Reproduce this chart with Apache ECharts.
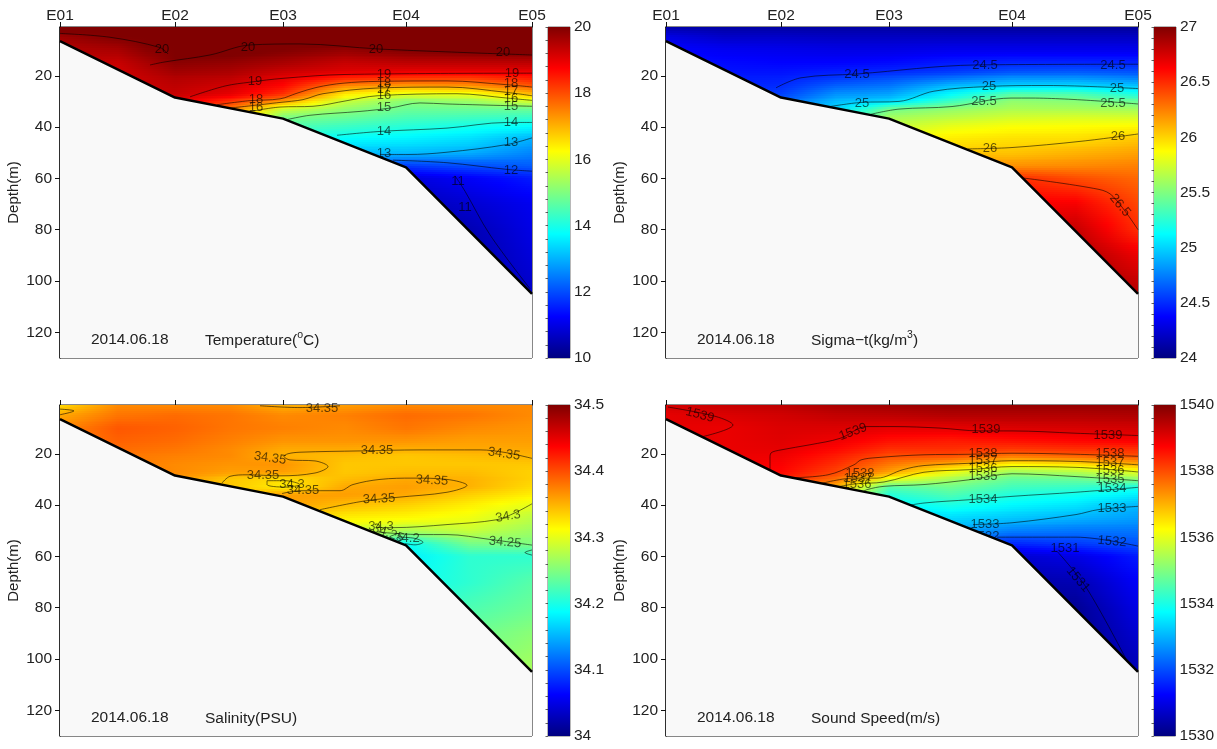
<!DOCTYPE html>
<html><head><meta charset="utf-8">
<script src="https://cdn.jsdelivr.net/npm/echarts@6/dist/echarts.min.js"></script>
<style>html,body{margin:0;padding:0;background:#fff}#c{width:1217px;height:749px}</style>
</head><body><div id="c"></div>
<script>
const stationNames = ['E01','E02','E03','E04','E05'];
const stationX = [0,115,223,346,472];
const seabed = [[0,6.5],[115,28.5],[223,36.7],[346,55.7],[472,105]];
const columnX = [0,58,115,170,223,285,346,410,472];
const rowDepth = [1,5,10,15,18,21,24,27,30,33,36,40,45,50,55,60,70,80,90,105];
const depthTicks = [20,40,60,80,100,120];

const temperature = [
 [20.3,19.7,19.5,19.4,19.4],
 [20.2,20,19.6,19.3,19.2,19.2,19.2,19.2,19.2],
 [20.6,20.4,20.2,19.9,19.7,19.5,19.4,19.3,19.1,18.9],
 [20.7,20.4,20.2,19.8,19.6,19.4,19.2,19,18.3,17.6,17,16],
 [20.6,20.3,20,19.6,19.3,19,18.7,18.3,17.3,15.8,15,14.5,13.9,13.3],
 [20.8,20.4,19.8,19.3,19.1,18.45,17.4,16.45,15.75,15.2,14.8,14.3,13.7,13.1,12.2,11],
 [20.8,20.5,20,19.4,19,18.25,17.2,16,15.1,14.8,14.5,14.1,13.6,13.1,11.8,10.9,10.5,10.3,10.2],
 [20.8,20.5,20.1,19.4,19,18.2,17.3,16.1,15.3,14.8,14.4,13.9,13.4,12.95,12,11.2,10.8,10.5,10.4,10.4],
 [20.8,20.5,20.2,19.4,19,18.5,17.9,16.9,15.9,14.8,14.3,13.7,12.95,12.55,12.15,11.5,11.1,11,10.9,10.7]
];
const sigma = [
 [24.12,24.3,24.38,24.42,24.45],
 [24.1,24.22,24.34,24.4,24.42,24.45,24.47,24.5,24.52],
 [24.1,24.22,24.32,24.38,24.42,24.46,24.5,24.56,24.65,24.75],
 [24.1,24.2,24.3,24.38,24.45,24.53,24.66,24.8,24.92,25,25.1,25.2],
 [24.1,24.2,24.3,24.4,24.48,24.6,24.72,24.85,25,25.45,25.6,25.7,25.85,26],
 [24.08,24.2,24.32,24.45,24.53,24.7,24.93,25.12,25.3,25.55,25.67,25.82,25.94,26.05,26.2,26.4],
 [24.08,24.2,24.32,24.48,24.6,24.8,25,25.38,25.55,25.63,25.74,25.87,25.97,26.05,26.2,26.5,26.65,26.75,26.85],
 [24.08,24.2,24.32,24.48,24.62,24.8,25.02,25.35,25.52,25.62,25.76,25.88,25.98,26.1,26.22,26.4,26.65,26.8,26.88,26.95],
 [24.08,24.2,24.32,24.48,24.6,24.75,24.95,25.2,25.42,25.6,25.75,25.9,26.05,26.15,26.25,26.32,26.42,26.5,26.68,26.85]
];
const salinity = [
 [34.33,34.355,34.37,34.375,34.38],
 [34.37,34.38,34.395,34.39,34.385,34.38,34.38,34.38,34.38],
 [34.37,34.385,34.39,34.385,34.38,34.375,34.37,34.37,34.365,34.36],
 [34.37,34.38,34.38,34.375,34.37,34.37,34.365,34.36,34.34,34.34,34.34,34.34],
 [34.35,34.37,34.375,34.365,34.355,34.35,34.365,34.36,34.33,34.32,34.36,34.36,34.34,34.3],
 [34.36,34.375,34.37,34.365,34.355,34.345,34.34,34.34,34.345,34.355,34.36,34.345,34.32,34.29,34.24,34.2],
 [34.37,34.385,34.38,34.365,34.352,34.34,34.34,34.345,34.355,34.36,34.355,34.335,34.315,34.27,34.19,34.18,34.19,34.2,34.21],
 [34.37,34.38,34.37,34.36,34.355,34.345,34.34,34.345,34.35,34.35,34.335,34.32,34.305,34.285,34.245,34.21,34.21,34.225,34.24,34.25],
 [34.37,34.37,34.365,34.36,34.355,34.35,34.34,34.335,34.335,34.33,34.32,34.3,34.28,34.265,34.25,34.21,34.23,34.24,34.255,34.27]
];
const soundSpeed = [
 [1539.2,1539,1539,1539,1539],
 [1539.3,1539.1,1538.95,1538.95,1538.95,1538.95,1538.95,1538.95,1538.95],
 [1539.4,1539.2,1539.1,1539.05,1539,1538.9,1538.8,1538.7,1538.5,1538.2],
 [1539.6,1539.35,1539.1,1538.9,1538.7,1538.5,1538.3,1538.1,1537.7,1537,1536.4,1535.5],
 [1539.7,1539.4,1539,1538.6,1538.3,1538,1537.6,1537.2,1536.1,1534.6,1534.1,1533.7,1533.2,1532.8],
 [1539.8,1539.5,1539,1538.5,1538.3,1538,1537.1,1536.1,1535.4,1534.85,1534.5,1534,1533.4,1532.9,1532,1531],
 [1539.8,1539.5,1539.1,1538.6,1538.2,1537.6,1536.4,1535.3,1534.75,1534.4,1534.05,1533.7,1533.2,1532.5,1531.6,1530.8,1530.4,1530.2,1530.1],
 [1539.8,1539.5,1539.15,1538.7,1538.3,1537.8,1536.6,1535.5,1534.8,1534.3,1533.9,1533.5,1533,1532.4,1531.8,1531,1530.5,1530.2,1530.1,1530.1],
 [1539.8,1539.55,1539.2,1538.8,1538.3,1538,1537.1,1536,1535.2,1534,1533.6,1533.05,1532.8,1532.4,1532.05,1531.5,1531.2,1531,1530.8,1530.5]
];

const tempContours = [
 [[0,3.5],[50,5],[100,9],[108,11.5]],
 [[90,15.8],[105,14.6],[150,11.9],[190,8],[240,7.6],[320,9.6],[472,11.9]],
 [[130,28.2],[165,24],[190,22.5],[223,21],[285,19.5],[472,19]],
 [[157,31.3],[190,29.7],[220,29],[237,26.8],[257,24.5],[283,22.9],[317,22.2],[387,22],[447,23.5],[472,24.4]],
 [[170,32.6],[220,30.4],[243,29.3],[263,27],[317,24.8],[387,24.4],[447,26.5],[472,27.8]],
 [[190,34],[220,32.2],[253,31.9],[287,29.7],[317,27.8],[397,27],[447,28.7],[472,29.6]],
 [[227,37.1],[250,35.4],[300,33.9],[330,32.6],[360,30.6],[387,31],[472,31.9]],
 [[277,43.2],[320,41.7],[387,40.4],[447,38.2],[472,38.2]],
 [[320,50.7],[347,50.7],[387,49.8],[447,46.8],[472,44.2]],
 [[333,52.9],[387,53.9],[447,56.5],[472,57.2]],
 [[395,59],[405,65],[430,82],[470,103]]
];
const tempLabels = [
 [102,9.9,'20'],[188,9.1,'20'],[316,9.9,'20'],[443,11.1,'20'],
 [195,22.4,'19'],[324,19.3,'19'],[452,18.9,'19'],
 [196,29.3,'18'],[324,22.8,'18'],[451,23.1,'18'],
 [324,25.4,'17'],[451,26.2,'17'],
 [196,32.5,'16'],[324,27.8,'16'],[451,29,'16'],
 [324,32.5,'15'],[451,32.1,'15'],
 [324,41.8,'14'],[451,38.3,'14'],
 [324,50.3,'13'],[451,46,'13'],[451,56.9,'12'],
 [398,61.2,'11'],[405,71.3,'11']
];
const sigmaContours = [
 [[110,24.7],[135,20.8],[191,19.3],[310,15.8],[472,15.5]],
 [[164,32],[195,30.4],[233,30],[268,26],[321,24.2],[381,23.8],[472,25]],
 [[205,35],[233,33],[286,32],[345,28.7],[366,28.7],[472,31]],
 [[302,48.5],[345,48],[416,45.5],[472,42.7]],
 [[356,59.8],[433,64.3],[447,67],[472,80]]
];
const sigmaLabels = [
 [191,19.6,'24.5'],[319,16,'24.5'],[447,16,'24.5'],
 [196,30.9,'25'],[323,24.2,'25'],[451,25,'25'],
 [318,30,'25.5'],[447,30.6,'25.5'],
 [324,48.4,'26'],[452,43.6,'26'],[454,70.5,'26.5',50]
];
const salinityContours = [
 [[472,21.8],[445,19.5],[420,18.5],[360,18.5],[300,18.9],[240,19.4],[228,20],[224,21],[230,22.4],[255,22.8],[268,25],[255,27.5],[220,28.6],[187,28.2],[170,28.8],[162,31.4]],
 [[260,41.8],[303,38.5],[337,37],[387,35],[407,32.3],[387,30],[353,29.5],[320,30],[293,32],[280,34.4],[240,34.4],[222,35.5]],
 [[207,30.5],[225,30.5],[240,32],[225,33],[207,32],[207,30.5]],
 [[320,48.8],[333,48.8],[387,47.6],[437,45.7],[455,43],[472,39.5]],
 [[318,50.5],[360,51.5],[387,51.5],[430,53.4],[472,55.6]],
 [[340,52.5],[355,53],[363,54.5],[355,55.5],[345,55]],
 [[472,57.5],[465,58.5],[472,59.5]],
 [[0,2.6],[14,3.3],[0,4.8]],
 [[200,1.3],[240,2],[280,1.3]]
];
const salinityLabels = [
 [317,18.7,'34.35'],[444,20.1,'34.35',8],[372,30.4,'34.35',3],[319,37.6,'34.35',-3],
 [448,44.4,'34.3',-10],[321,48.4,'34.3'],[445,54.5,'34.25',5],[347,53,'34.2'],[328,51,'34.25',20],
 [243,34.4,'34.35'],[232,32,'34.3'],[210,21.7,'34.35',8],[203,28.6,'34.35'],[262,2.2,'34.35']
];
const soundContours = [
 [[37,13.3],[67,8.8],[50,5.5],[2,1.8]],
 [[104,26],[104,21.7],[105,19.7],[115,18.5],[144,16.5],[174,14],[201,9.4],[227,9.4],[274,10],[314,11.1],[346,11.1],[410,12],[472,12.9]],
 [[122,29.4],[162,28.2],[188,24.3],[195,22.4],[211,21.5],[258,20.4],[304,20.2],[346,19.8],[410,20.2],[472,21]],
 [[151,32],[188,29.5],[211,29.5],[237,26.2],[258,24.6],[304,23.7],[346,22.7],[410,23],[472,24.3]],
 [[161,33.8],[188,31.8],[218,31],[258,27.2],[304,26.2],[346,25],[410,25.3],[472,27.1]],
 [[195,35.3],[201,34],[218,32.7],[258,32],[304,30.1],[346,27.8],[410,28.9],[472,30.5]],
 [[232,40.9],[258,39.2],[304,37.9],[346,36.6],[410,35],[472,33.1]],
 [[307,47.6],[346,46.9],[410,43.7],[432,41.8],[472,40.5]],
 [[331,52.5],[410,52.5],[472,56]],
 [[391,58],[420,72],[460,100]]
];
const soundLabels = [
 [34,4.9,'1539',15],[187,11.5,'1539',-20],[320,10.7,'1539'],[442,12.7,'1539'],
 [317,20,'1538'],[444,20,'1538'],[194,27.8,'1538'],
 [317,22.7,'1537'],[444,23.5,'1537'],[192,29.7,'1537'],
 [317,25.9,'1536'],[444,26.6,'1536'],[191,32.1,'1536'],
 [317,29,'1535'],[444,30.1,'1535'],
 [317,37.9,'1534'],[446,33.6,'1534'],
 [319,47.6,'1533'],[446,41.4,'1533'],
 [319,52.3,'1532'],[446,54.2,'1532',5],
 [399,57,'1531'],[412,69,'1531',50]
];

const FONT = 'Arial, "Liberation Sans", sans-serif';
const TXT = '#222';
const panels = [
 {left:60,  top:27,  table:temperature, lines:tempContours,     labels:tempLabels,     min:10,  max:20,  step:2,   date:'2014.06.18', title:'{a|Temperature(}{s|o}{a|C)}', names:true},
 {left:666, top:27,  table:sigma,       lines:sigmaContours,    labels:sigmaLabels,    min:24,  max:27,  step:0.5, date:'2014.06.18', title:'{a|Sigma−t(kg/m}{s|3}{a|)}', names:true},
 {left:60,  top:405, table:salinity,    lines:salinityContours, labels:salinityLabels, min:34,  max:34.5,step:0.1, date:'2014.06.18', title:'{a|Salinity(PSU)}', names:false},
 {left:666, top:405, table:soundSpeed,  lines:soundContours,    labels:soundLabels,    min:1530,max:1540,step:2,   date:'2014.06.18', title:'{a|Sound Speed(m/s)}', names:false}
];

const jetStops = [[0,0,0,128],[0.125,0,0,255],[0.375,0,255,255],[0.625,255,255,0],[0.875,255,0,0],[1,128,0,0]];
function jet(f){
  f = Math.max(0,Math.min(1,f));
  for(let i=1;i<jetStops.length;i++){
    if(f<=jetStops[i][0]){
      const a=jetStops[i-1],b=jetStops[i],t=(f-a[0])/(b[0]-a[0]);
      return 'rgb('+[1,2,3].map(k=>Math.round(a[k]+(b[k]-a[k])*t)).join(',')+')';
    }
  }
  return 'rgb(128,0,0)';
}

const grid=[],xAxis=[],yAxis=[],series=[],title=[];
panels.forEach((p,n)=>{
  const quads=[];
  for(let c=0;c<columnX.length-1;c++){
    const L=p.table[c],R=p.table[c+1];
    for(let r=0;r<rowDepth.length-1;r++){
      if(r+1<L.length&&r+1<R.length)
        quads.push([columnX[c],columnX[c+1],rowDepth[r],rowDepth[r+1],L[r],R[r],L[r+1],R[r+1]]);
    }
  }
  const frac=v=>(v-p.min)/(p.max-p.min);
  grid.push({left:p.left,top:p.top,width:472,height:331,show:true,borderColor:'#111',borderWidth:1,backgroundColor:'#f9f9f9'});
  xAxis.push({gridIndex:n,type:'value',position:'top',min:0,max:472,splitLine:{show:false},
    axisLine:{show:true,onZero:false,lineStyle:{color:'#111',width:1}},
    axisTick:{show:true,length:5,customValues:stationX,lineStyle:{color:'#111'}},
    axisLabel:{show:p.names,customValues:stationX,margin:3,fontFamily:FONT,fontSize:15.5,color:TXT,
      formatter:v=>stationNames[stationX.indexOf(v)]}});
  yAxis.push({gridIndex:n,type:'value',inverse:true,min:1,max:130,splitLine:{show:false},
    name:'Depth(m)',nameLocation:'middle',nameGap:39,nameTextStyle:{fontFamily:FONT,fontSize:15,color:TXT},
    axisLine:{show:true,onZero:false,lineStyle:{color:'#111',width:1.5}},
    axisTick:{show:true,length:5,customValues:depthTicks,lineStyle:{color:'#111'}},
    axisLabel:{customValues:depthTicks,margin:8,fontFamily:FONT,fontSize:15.5,color:TXT}});
  series.push({type:'custom',xAxisIndex:n,yAxisIndex:n,z:1,silent:true,clip:true,animation:false,
    encode:{x:[0,1],y:[2,3]},data:quads,
    renderItem:(params,api)=>{
      const a=api.coord([api.value(0),api.value(2)]),b=api.coord([api.value(1),api.value(3)]);
      const top=Math.round(a[1]),bottom=Math.round(b[1]),xl=Math.round(a[0]),xr=Math.round(b[0]);
      const h=bottom-top,count=Math.max(1,Math.round(h/2)),children=[];
      const v00=api.value(4),v10=api.value(5),v01=api.value(6),v11=api.value(7);
      for(let k=0;k<count;k++){
        const t=(k+0.5)/count,vl=v00+(v01-v00)*t,vr=v10+(v11-v10)*t;
        const y0=top+Math.round(h*k/count),y1=top+Math.round(h*(k+1)/count);
        children.push({type:'rect',shape:{x:xl,y:y0,width:xr-xl,height:y1-y0},
          style:{fill:new echarts.graphic.LinearGradient(0,0,1,0,[
            {offset:0,color:jet(frac(vl))},{offset:0.5,color:jet(frac((vl+vr)/2))},{offset:1,color:jet(frac(vr))}])}});
      }
      return {type:'group',children};
    }});
  p.lines.forEach(line=>series.push({type:'line',xAxisIndex:n,yAxisIndex:n,z:2,silent:true,animation:false,
    data:line,smooth:0.35,symbol:'none',lineStyle:{color:'#000',width:0.8,opacity:0.7}}));
  series.push({type:'scatter',xAxisIndex:n,yAxisIndex:n,z:3,silent:true,animation:false,symbolSize:0,
    data:p.labels.map(l=>({value:[l[0],l[1]],name:l[2],label:{rotate:-(l[3]||0)}})),
    label:{show:true,position:'inside',formatter:o=>o.name,fontFamily:FONT,fontSize:13,color:'rgba(0,0,0,0.78)'}});
  series.push({type:'line',xAxisIndex:n,yAxisIndex:n,z:4,silent:true,animation:false,data:seabed,symbol:'none',
    lineStyle:{color:'#000',width:2.5},areaStyle:{color:'#f9f9f9',opacity:1,origin:'end'}});
  title.push({left:p.left+26,top:p.top+300,text:p.date,textStyle:{fontFamily:FONT,fontSize:15.5,fontWeight:'normal',color:TXT}});
  title.push({left:p.left+140,top:p.top+294,text:p.title,textStyle:{rich:{
    a:{fontFamily:FONT,fontSize:15.5,fontWeight:'normal',color:TXT,lineHeight:24,padding:[6,0,0,0]},
    s:{fontFamily:FONT,fontSize:10.5,fontWeight:'normal',color:TXT,lineHeight:24,padding:[0,0,6,0]}}}});
});
panels.forEach((p,i)=>{
  const n=panels.length+i;
  const fine=[];
  for(let k=0;k<=Math.round((p.max-p.min)/p.step)*5;k++) fine.push(+(p.min+k*p.step/5).toFixed(3));
  grid.push({left:p.left+488,top:p.top,width:22,height:331,show:true,borderColor:'#111',borderWidth:0.6});
  xAxis.push({gridIndex:n,type:'value',min:0,max:1,show:false});
  yAxis.push({gridIndex:n,type:'value',position:'right',z:5,min:p.min,max:p.max,interval:p.step,splitLine:{show:false},
    axisLine:{show:false},axisTick:{show:true,inside:true,length:2.5,customValues:fine,lineStyle:{color:'#222',opacity:0.7}},
    axisLabel:{margin:4,fontFamily:FONT,fontSize:15.5,color:TXT,formatter:v=>String(+v.toFixed(2))}});
  series.push({type:'custom',xAxisIndex:n,yAxisIndex:n,silent:true,animation:false,z:1,encode:{x:[0,1],y:[2,3]},
    data:[[0,1,p.min,p.max]],
    renderItem:(params,api)=>{
      const a=api.coord([api.value(0),api.value(3)]),b=api.coord([api.value(1),api.value(2)]);
      return {type:'rect',shape:{x:a[0],y:a[1],width:b[0]-a[0],height:b[1]-a[1]},
        style:{fill:new echarts.graphic.LinearGradient(0,0,0,1,jetStops.map(s=>({offset:1-s[0],color:jet(s[0])})).reverse())}};
    }});
});
const chart=echarts.init(document.getElementById('c'),null,{renderer:'canvas',width:1217,height:749});
chart.setOption({animation:false,backgroundColor:'#fff',title,grid,xAxis,yAxis,series});
</script></body></html>
